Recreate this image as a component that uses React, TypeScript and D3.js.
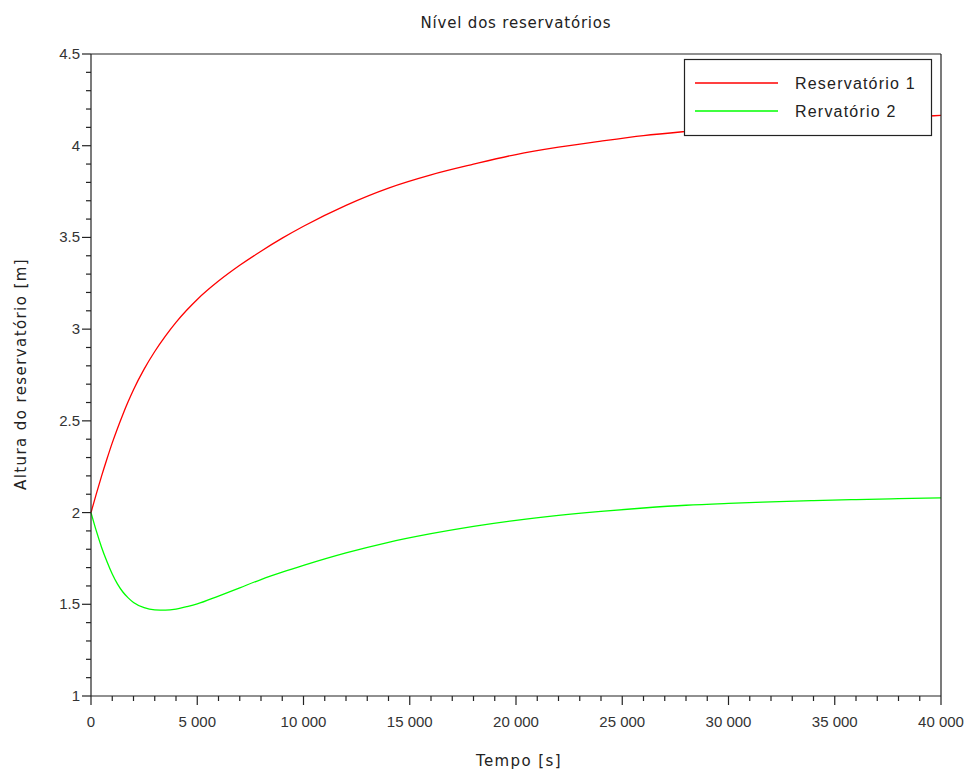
import React from "react";
import * as d3 from "d3";

const times = [0, 250, 500, 750, 1000, 1250, 1500, 1750, 2000, 2500, 3000, 3500, 4000, 4500, 5000, 6000, 7000, 8000, 9000, 10000, 12000, 14000, 16000, 18000, 20000, 22000, 24000, 26000, 28000, 30000, 32000, 34000, 36000, 38000, 40000];
const reservatorio1 = [2.0, 2.102, 2.2, 2.292, 2.38, 2.46, 2.535, 2.605, 2.67, 2.782, 2.878, 2.962, 3.037, 3.103, 3.162, 3.262, 3.348, 3.425, 3.496, 3.561, 3.675, 3.769, 3.841, 3.899, 3.952, 3.992, 4.025, 4.055, 4.078, 4.098, 4.115, 4.13, 4.143, 4.155, 4.165];
const reservatorio2 = [2.0, 1.9, 1.81, 1.733, 1.665, 1.61, 1.567, 1.535, 1.51, 1.482, 1.47, 1.468, 1.474, 1.487, 1.502, 1.545, 1.59, 1.635, 1.675, 1.712, 1.78, 1.838, 1.885, 1.925, 1.958, 1.985, 2.007, 2.025, 2.04, 2.05, 2.058, 2.065, 2.071, 2.076, 2.08];
const xTicks = [0, 5000, 10000, 15000, 20000, 25000, 30000, 35000, 40000];
const xTickLabels = ["0", "5 000", "10 000", "15 000", "20 000", "25 000", "30 000", "35 000", "40 000"];
const yTicks = [1, 1.5, 2, 2.5, 3, 3.5, 4, 4.5];
const yTickLabels = ["1", "1.5", "2", "2.5", "3", "3.5", "4", "4.5"];
const seriesNames = ["Reservatório 1", "Rervatório 2"];
const seriesColors = ["#ff0000", "#00ff00"];

export default function App() {
  const W = 976, H = 771;
  const L = 91, R = 941, T = 54, B = 696;
  const x = d3.scaleLinear().domain([0, 40000]).range([L, R]);
  const y = d3.scaleLinear().domain([1, 4.5]).range([B, T]);
  const line = d3.line<number>().x((_, i) => x(times[i])).y((d) => y(d)).curve(d3.curveMonotoneX);
  const xMinor = d3.range(0, 40001, 1000).filter((v) => v % 5000 !== 0);
  const yMinor = d3.range(10, 46, 1).map((v) => v / 10).filter((v) => Math.round(v * 10) % 5 !== 0);
  const axisColor = "#222";
  const tickFont = "'Liberation Sans', Arial, sans-serif";
  const labelFont = "'DejaVu Sans', sans-serif";
  const series = [reservatorio1, reservatorio2];
  return (
    <svg width={W} height={H} style={{ position: "absolute", left: 0, top: 0, background: "#fff" }}>
      <rect x={0} y={0} width={W} height={H} fill="#fff" />
      <text x={516} y={28} textAnchor="middle" fontFamily={labelFont} fontSize={15} letterSpacing={0.8} fill="#222">Nível dos reservatórios</text>
      {series.map((s, i) => (
        <path key={i} d={line(s) || ""} fill="none" stroke={seriesColors[i]} strokeWidth={1.3} />
      ))}
      <line x1={L} y1={T} x2={R} y2={T} stroke={axisColor} strokeWidth={1.2} />
      <line x1={R} y1={T} x2={R} y2={B} stroke={axisColor} strokeWidth={1.2} />
      <line x1={L} y1={T} x2={L} y2={B} stroke={axisColor} strokeWidth={1.2} />
      <line x1={L} y1={B} x2={R} y2={B} stroke={axisColor} strokeWidth={1.2} />
      {yTicks.map((v, i) => (
        <g key={"y" + i}>
          <line x1={L - 9} x2={L} y1={y(v)} y2={y(v)} stroke={axisColor} strokeWidth={1.2} />
          <text x={L - 11} y={y(v) + 5} textAnchor="end" fontFamily={tickFont} fontSize={15} fill="#333">{yTickLabels[i]}</text>
        </g>
      ))}
      {yMinor.map((v, i) => (
        <line key={"ym" + i} x1={L - 5} x2={L} y1={y(v)} y2={y(v)} stroke={axisColor} strokeWidth={1.2} />
      ))}
      {xTicks.map((v, i) => (
        <g key={"x" + i}>
          <line x1={x(v)} x2={x(v)} y1={B} y2={B + 9} stroke={axisColor} strokeWidth={1.2} />
          <text x={x(v)} y={B + 31} textAnchor="middle" fontFamily={tickFont} fontSize={15} fill="#333">{xTickLabels[i]}</text>
        </g>
      ))}
      {xMinor.map((v, i) => (
        <line key={"xm" + i} x1={x(v)} x2={x(v)} y1={B} y2={B + 5} stroke={axisColor} strokeWidth={1.2} />
      ))}
      <text x={519} y={766} textAnchor="middle" fontFamily={labelFont} fontSize={15} fill="#222" letterSpacing={1.4}>Tempo [s]</text>
      <text transform={`translate(26, 374) rotate(-90)`} textAnchor="middle" fontFamily={labelFont} fontSize={15} fill="#222" letterSpacing={1.4}>Altura do reservatório [m]</text>
      <rect x={684.5} y={59.5} width={247} height={76} fill="#fff" stroke={axisColor} strokeWidth={1.2} />
      {seriesNames.map((n, i) => (
        <g key={"lg" + i}>
          <line x1={695} x2={778} y1={83 + i * 28} y2={83 + i * 28} stroke={seriesColors[i]} strokeWidth={1.3} />
          <text x={795} y={89 + i * 28} fontFamily={tickFont} fontSize={16} letterSpacing={1.2} fill="#222">{n}</text>
        </g>
      ))}
    </svg>
  );
}
